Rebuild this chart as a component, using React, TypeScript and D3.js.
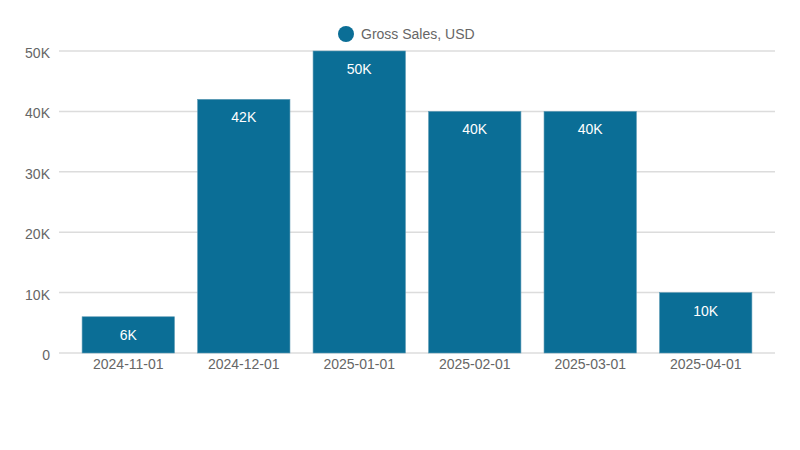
import React from 'react';
import * as d3 from 'd3';

const months = ['2024-11-01', '2024-12-01', '2025-01-01', '2025-02-01', '2025-03-01', '2025-04-01'];
const grossSales = [6000, 42000, 50000, 40000, 40000, 10000];
const yTicks = [0, 10000, 20000, 30000, 40000, 50000];
const seriesName = 'Gross Sales, USD';

const W = 800;
const H = 450;
const m = { top: 51, right: 25, bottom: 97, left: 59 };
const barColor = '#0b6e96';
const font = '"Liberation Sans", Arial, sans-serif';

const fmt = (v: number) => (v === 0 ? '0' : `${Math.round(v / 1000)}K`);

export default function App(): JSX.Element {
	const x = d3.scaleBand<string>().domain(months).range([m.left, W - m.right]).paddingInner(0.2).paddingOuter(0.2);
	const y = d3.scaleLinear().domain([0, 50000]).range([H - m.bottom, m.top]);

	return (
		<svg width={W} height={H} style={{ display: 'block', position: 'absolute', left: 0, top: 0 }} fontFamily={font}>
			<g>
				<circle cx={346} cy={34} r={8} fill={barColor} />
				<text x={361} y={39} fontSize={14} fill="#666">{seriesName}</text>
			</g>
			{yTicks.map((t) => (
				<g key={t}>
					<line x1={m.left} x2={W - m.right} y1={y(t)} y2={y(t)} stroke="#dcdcdc" strokeWidth={1.5} />
					<text x={50} y={y(t) + 7} textAnchor="end" fontSize={14} fill="#666">{fmt(t)}</text>
				</g>
			))}
			{months.map((d, i) => {
				const v = grossSales[i];
				const bx = x(d) as number;
				return (
					<g key={d}>
						<rect x={bx} y={y(v)} width={x.bandwidth()} height={y(0) - y(v)} fill={barColor} stroke="#5e9bb5" strokeWidth={0.6} />
						<text x={bx + x.bandwidth() / 2} y={y(v) + 23} textAnchor="middle" fontSize={14} fill="#fff">{fmt(v)}</text>
						<text x={bx + x.bandwidth() / 2} y={y(0) + 16} textAnchor="middle" fontSize={14} fill="#666">{d}</text>
					</g>
				);
			})}
		</svg>
	);
}
